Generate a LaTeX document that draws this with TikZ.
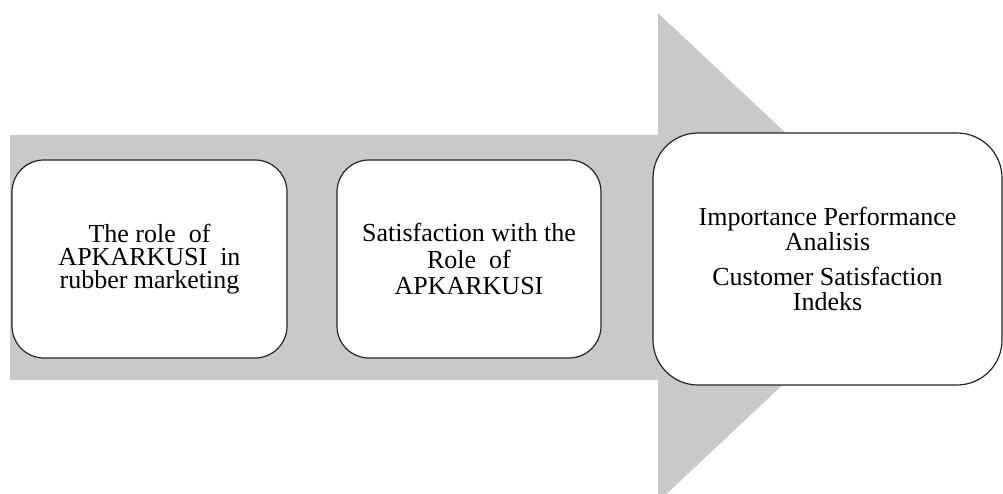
\documentclass[tikz,border=0pt]{standalone}
\usepackage{fontspec}
\setmainfont{Liberation Serif}
\usetikzlibrary{positioning}

\definecolor{arrowgray}{RGB}{201,201,201}

\begin{document}
\begin{tikzpicture}[x=1pt,y=-1pt,
  stage/.style={draw=black!85, line width=1.2pt, fill=white, rounded corners=32pt,
    align=center, inner sep=0pt, font=\fontsize{26}{23}\selectfont}]
\useasboundingbox (0,0) rectangle (1003,494);

%Arrow:
\fill[arrowgray] (10,135) -- (658,135) -- (658,13) -- (918,257.5) -- (658,502)
  -- (658,380) -- (10,380) -- cycle;

%Stages:
\node (R) [stage, minimum width=275pt, minimum height=198pt] at (149.5,259)
  {The role\ \ of\\ APKARKUSI\ \ in\\ rubber marketing};
\node (S) [stage, minimum width=264pt, minimum height=198pt,
  font=\fontsize{26}{26.5}\selectfont] at (469,259)
  {Satisfaction with the\\ Role\ \ of\\ APKARKUSI};
\node (I) [stage, minimum width=349pt, minimum height=252pt, rounded corners=45pt,
  font=\fontsize{26}{25}\selectfont] at (827.5,259)
  {Importance Performance\\ Analisis\\[10pt] Customer Satisfaction\\ Indeks};

\end{tikzpicture}
\end{document}
